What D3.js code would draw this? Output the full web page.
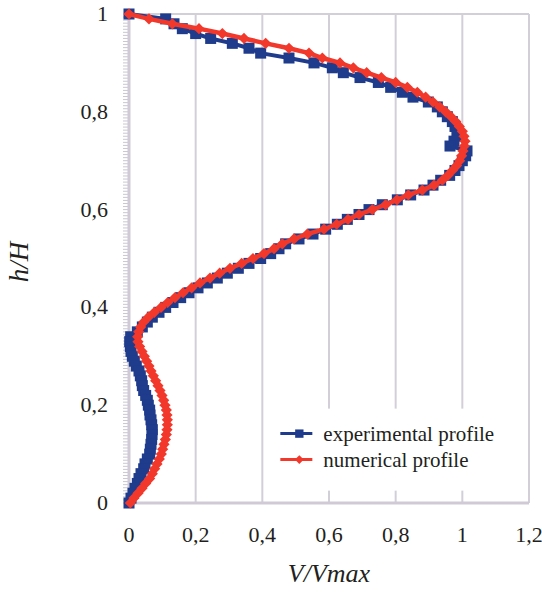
<!DOCTYPE html>
<html>
<head>
<meta charset="utf-8">
<script src="https://cdn.jsdelivr.net/npm/d3@7"></script>
<style>
  body { margin: 0; background: #fff; }
</style>
</head>
<body>
<div id="wrapper"></div>
<script>
// h/H levels (top to bottom)
const hLevels = [
  1.00, 0.99, 0.98, 0.97, 0.96, 0.95, 0.94, 0.93, 0.92, 0.91,
  0.90, 0.89, 0.88, 0.87, 0.86, 0.85, 0.84, 0.83, 0.82, 0.81,
  0.80, 0.79, 0.78, 0.77, 0.76, 0.75, 0.74, 0.73, 0.72, 0.71,
  0.70, 0.69, 0.68, 0.67, 0.66, 0.65, 0.64, 0.63, 0.62, 0.61,
  0.60, 0.59, 0.58, 0.57, 0.56, 0.55, 0.54, 0.53, 0.52, 0.51,
  0.50, 0.49, 0.48, 0.47, 0.46, 0.45, 0.44, 0.43, 0.42, 0.41,
  0.40, 0.39, 0.38, 0.37, 0.36, 0.35, 0.34, 0.33, 0.32, 0.31,
  0.30, 0.29, 0.28, 0.27, 0.26, 0.25, 0.24, 0.23, 0.22, 0.21,
  0.20, 0.19, 0.18, 0.17, 0.16, 0.15, 0.14, 0.13, 0.12, 0.11,
  0.10, 0.09, 0.08, 0.07, 0.06, 0.05, 0.04, 0.03, 0.02, 0.01,
  0.00
]

// experimental profile, V/Vmax at each level
const experimentalV = [
  0.000, 0.110, 0.135, 0.160, 0.200, 0.245, 0.310, 0.360, 0.395, 0.480,
  0.555, 0.610, 0.643, 0.693, 0.748, 0.785, 0.820, 0.852, 0.898, 0.925,
  0.940, 0.955, 0.970, 0.978, 0.984, 0.985, 0.975, 0.963, 1.014, 1.010,
  1.000, 0.990, 0.978, 0.962, 0.935, 0.912, 0.885, 0.845, 0.805, 0.760,
  0.720, 0.690, 0.655, 0.625, 0.590, 0.552, 0.510, 0.470, 0.450, 0.425,
  0.395, 0.360, 0.328, 0.295, 0.265, 0.235, 0.207, 0.180, 0.155, 0.132,
  0.110, 0.090, 0.070, 0.055, 0.040, 0.025, 0.005, 0.002, 0.004, 0.006,
  0.010, 0.016, 0.022, 0.030, 0.034, 0.038, 0.040, 0.044, 0.050, 0.055,
  0.058, 0.062, 0.063, 0.066, 0.068, 0.070, 0.069, 0.068, 0.066, 0.064,
  0.062, 0.055, 0.048, 0.044, 0.036, 0.030, 0.025, 0.018, 0.012, 0.006,
  0.000
]

// numerical profile, V/Vmax at each level
const numericalV = [
  0.000, 0.060, 0.130, 0.210, 0.280, 0.345, 0.410, 0.480, 0.540, 0.580,
  0.633, 0.673, 0.713, 0.757, 0.800, 0.835, 0.865, 0.890, 0.912, 0.932,
  0.950, 0.966, 0.980, 0.991, 1.000, 1.005, 1.008, 1.006, 1.002, 0.998,
  0.992, 0.983, 0.970, 0.957, 0.940, 0.915, 0.880, 0.838, 0.804, 0.770,
  0.730, 0.690, 0.657, 0.623, 0.585, 0.535, 0.495, 0.460, 0.435, 0.405,
  0.372, 0.338, 0.303, 0.272, 0.243, 0.213, 0.188, 0.162, 0.138, 0.116,
  0.096, 0.076, 0.058, 0.044, 0.035, 0.029, 0.026, 0.027, 0.032, 0.039,
  0.046, 0.053, 0.060, 0.066, 0.073, 0.080, 0.087, 0.093, 0.099, 0.104,
  0.108, 0.112, 0.114, 0.115, 0.115, 0.114, 0.112, 0.109, 0.105, 0.101,
  0.097, 0.091, 0.084, 0.077, 0.070, 0.062, 0.050, 0.039, 0.027, 0.015,
  0.004
]

const xTicks = [0, 0.2, 0.4, 0.6, 0.8, 1, 1.2]
const yTicks = [0, 0.2, 0.4, 0.6, 0.8, 1]
const seriesNames = ["experimental profile", "numerical profile"]

const blue = "#1f3b8c"
const red = "#f2382b"
const gridColor = "#d3cfd9"
const textColor = "#231f20"
const serif = "'Liberation Serif', 'DejaVu Serif', serif"

function drawChart() {
  let dimensions = {
    width: 542,
    height: 593,
    margin: { top: 14, right: 13, bottom: 90, left: 129 },
  }
  dimensions.boundedWidth = dimensions.width
    - dimensions.margin.left
    - dimensions.margin.right
  dimensions.boundedHeight = dimensions.height
    - dimensions.margin.top
    - dimensions.margin.bottom

  const wrapper = d3.select("#wrapper")
    .append("svg")
      .attr("width", dimensions.width)
      .attr("height", dimensions.height)

  const bounds = wrapper.append("g")
      .attr("transform", `translate(${dimensions.margin.left},${dimensions.margin.top})`)

  // scales
  const xScale = d3.scaleLinear()
    .domain([0, 1.2])
    .range([0, dimensions.boundedWidth])

  const yScale = d3.scaleLinear()
    .domain([0, 1])
    .range([dimensions.boundedHeight, 0])

  // grid + frame
  bounds.append("g")
    .selectAll("line")
    .data(xTicks.slice(1))
    .join("line")
      .attr("x1", d => xScale(d))
      .attr("x2", d => xScale(d))
      .attr("y1", 0)
      .attr("y2", dimensions.boundedHeight)
      .attr("stroke", gridColor)
      .attr("stroke-width", 2)

  bounds.append("line")
      .attr("x1", 0).attr("x2", dimensions.boundedWidth)
      .attr("y1", 0).attr("y2", 0)
      .attr("stroke", gridColor)
      .attr("stroke-width", 2)

  // minor ticks on the left axis
  const minorTicks = d3.range(0, 160).map(i => i / 160)
  bounds.append("g")
    .selectAll("line")
    .data(minorTicks)
    .join("line")
      .attr("x1", -6)
      .attr("x2", 0)
      .attr("y1", d => yScale(d))
      .attr("y2", d => yScale(d))
      .attr("stroke", "#cbc6d2")
      .attr("stroke-width", 1)

  bounds.append("line")
      .attr("x1", 0).attr("x2", 0)
      .attr("y1", 0).attr("y2", dimensions.boundedHeight)
      .attr("stroke", "#cfcad6")
      .attr("stroke-width", 3)

  bounds.append("line")
      .attr("x1", 0).attr("x2", dimensions.boundedWidth)
      .attr("y1", dimensions.boundedHeight).attr("y2", dimensions.boundedHeight)
      .attr("stroke", "#cfcad6")
      .attr("stroke-width", 3)

  // tick labels, decimal comma
  const fmt = d => String(d).replace(".", ",")

  bounds.append("g")
    .selectAll("text")
    .data(xTicks)
    .join("text")
      .attr("x", d => xScale(d))
      .attr("y", dimensions.boundedHeight + 39)
      .attr("text-anchor", "middle")
      .attr("font-family", serif)
      .attr("font-size", 22)
      .attr("fill", textColor)
      .text(fmt)

  bounds.append("g")
    .selectAll("text")
    .data(yTicks)
    .join("text")
      .attr("x", -21)
      .attr("y", d => yScale(d) + 7)
      .attr("text-anchor", "end")
      .attr("font-family", serif)
      .attr("font-size", 22)
      .attr("fill", textColor)
      .text(fmt)

  // legend box (covers grid)
  const legend = bounds.append("g")
      .attr("transform", `translate(${xScale(0.43)},${yScale(0.193)})`)

  legend.append("rect")
      .attr("width", 250)
      .attr("height", 82)
      .attr("fill", "#fff")

  // data
  const expData = hLevels.map((h, i) => ({ h, v: experimentalV[i] }))
  const numData = hLevels.map((h, i) => ({ h, v: numericalV[i] }))

  const lineGenerator = d3.line()
    .x(d => xScale(d.v))
    .y(d => yScale(d.h))

  bounds.append("path")
      .attr("d", lineGenerator(expData))
      .attr("fill", "none")
      .attr("stroke", blue)
      .attr("stroke-width", 4)

  bounds.append("g")
    .selectAll("rect")
    .data(expData)
    .join("rect")
      .attr("x", d => xScale(d.v) - 5.5)
      .attr("y", d => yScale(d.h) - 5.5)
      .attr("width", 11)
      .attr("height", 11)
      .attr("fill", blue)

  bounds.append("path")
      .attr("d", lineGenerator(numData))
      .attr("fill", "none")
      .attr("stroke", red)
      .attr("stroke-width", 4.5)

  const diamond = d3.symbol().type(d3.symbolDiamond2).size(80)
  bounds.append("g")
    .selectAll("path")
    .data(numData)
    .join("path")
      .attr("d", diamond)
      .attr("transform", d => `translate(${xScale(d.v)},${yScale(d.h)})`)
      .attr("fill", red)

  // legend items
  const items = legend.selectAll("g")
    .data(seriesNames)
    .join("g")
      .attr("transform", (d, i) => `translate(8,${25 + i * 26})`)

  items.append("line")
      .attr("x1", 0).attr("x2", 32)
      .attr("stroke", (d, i) => i ? red : blue)
      .attr("stroke-width", 3)

  items.append("path")
      .attr("d", (d, i) => i
        ? d3.symbol().type(d3.symbolDiamond2).size(50)()
        : d3.symbol().type(d3.symbolSquare).size(70)())
      .attr("transform", "translate(19,0)")
      .attr("fill", (d, i) => i ? red : blue)

  items.append("text")
      .attr("x", 43)
      .attr("y", 7)
      .attr("font-family", serif)
      .attr("font-size", 21)
      .attr("fill", textColor)
      .text(d => d)

  // axis titles
  wrapper.append("text")
      .attr("x", dimensions.margin.left + xScale(0.6))
      .attr("y", 582)
      .attr("text-anchor", "middle")
      .attr("font-family", serif)
      .attr("font-size", 26)
      .attr("font-style", "italic")
      .attr("fill", textColor)
      .text("V/Vmax")

  wrapper.append("text")
      .attr("transform", "translate(28,262) rotate(-90)")
      .attr("text-anchor", "middle")
      .attr("font-family", serif)
      .attr("font-size", 27)
      .attr("font-style", "italic")
      .attr("fill", textColor)
      .text("h/H")
}

drawChart()
</script>
</body>
</html>
